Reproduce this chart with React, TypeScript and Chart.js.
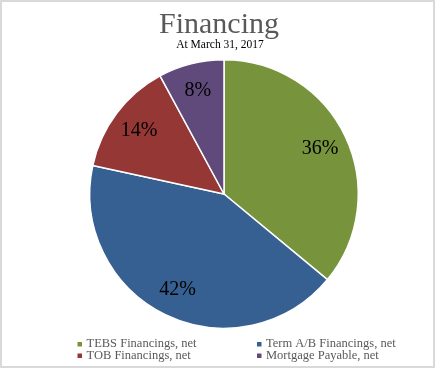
import React, { useEffect, useRef } from "react";
import { Chart, registerables } from "chart.js";

Chart.register(...registerables);

const categories = [
  "TEBS Financings, net",
  "Term A/B Financings, net",
  "TOB Financings, net",
  "Mortgage Payable, net",
];
const values = [36.0, 42.4, 13.7, 7.9];
const percentLabels = ["36%", "42%", "14%", "8%"];
const colors = ["#77933C", "#376092", "#953735", "#604A7B"];
const titleText = "Financing";
const subtitleText = "At March 31, 2017";

const SERIF = "'Liberation Serif', 'Times New Roman', serif";

const framePlugin = {
  id: "frame",
  beforeDraw(chart: any) {
    const { ctx, width, height } = chart;
    ctx.save();
    ctx.fillStyle = "#ffffff";
    ctx.fillRect(0, 0, width, height);
    ctx.strokeStyle = "#d9d9d9";
    ctx.lineWidth = 2;
    ctx.strokeRect(1, 1, width - 2, height - 2);
    ctx.restore();
  },
  afterDraw(chart: any) {
    const { ctx } = chart;
    ctx.save();
    ctx.textAlign = "center";
    ctx.textBaseline = "alphabetic";
    ctx.fillStyle = "#595959";
    ctx.font = `30px ${SERIF}`;
    ctx.fillText(titleText, 219, 33);
    ctx.fillStyle = "#000000";
    ctx.font = `11.5px ${SERIF}`;
    ctx.fillText(subtitleText, 220, 48);

    const meta = chart.getDatasetMeta(0);
    ctx.font = `20px ${SERIF}`;
    ctx.textBaseline = "middle";
    ctx.fillStyle = "#000000";
    meta.data.forEach((arc: any, i: number) => {
      const { x, y, startAngle, endAngle, outerRadius } = arc.getProps(
        ["x", "y", "startAngle", "endAngle", "outerRadius"],
        true
      );
      const mid = (startAngle + endAngle) / 2;
      const r = outerRadius * 0.79;
      ctx.fillText(percentLabels[i], x + Math.cos(mid) * r, y + Math.sin(mid) * r);
    });

    const colX = [77.5, 257];
    const rowY = [347, 358.5];
    ctx.font = `12.5px ${SERIF}`;
    ctx.textAlign = "left";
    ctx.textBaseline = "alphabetic";
    categories.forEach((name, i) => {
      const cx = colX[i % 2];
      const by = rowY[Math.floor(i / 2)];
      ctx.fillStyle = colors[i];
      ctx.fillRect(cx, by - 5, 4.5, 4.5);
      ctx.fillStyle = "#595959";
      ctx.fillText(name, cx + 9, by);
    });
    ctx.restore();
  },
};

export default function App() {
  const ref = useRef<HTMLCanvasElement | null>(null);
  useEffect(() => {
    if (!ref.current) return;
    const chart = new Chart(ref.current, {
      type: "pie",
      data: {
        labels: categories,
        datasets: [
          {
            data: values,
            backgroundColor: colors,
            borderColor: "#ffffff",
            borderWidth: 1.5,
          },
        ],
      },
      options: {
        responsive: false,
        animation: false,
        layout: { padding: { top: 59, bottom: 39, left: 60, right: 47 } },
        plugins: {
          legend: { display: false },
          title: { display: false },
          tooltip: { enabled: false },
        },
      },
      plugins: [framePlugin],
    });
    return () => chart.destroy();
  }, []);
  return (
    <div style={{ position: "fixed", left: 0, top: 0, width: 435, height: 368, background: "#fff" }}>
      <canvas ref={ref} width={435} height={368} style={{ width: 435, height: 368, display: "block" }} />
    </div>
  );
}
